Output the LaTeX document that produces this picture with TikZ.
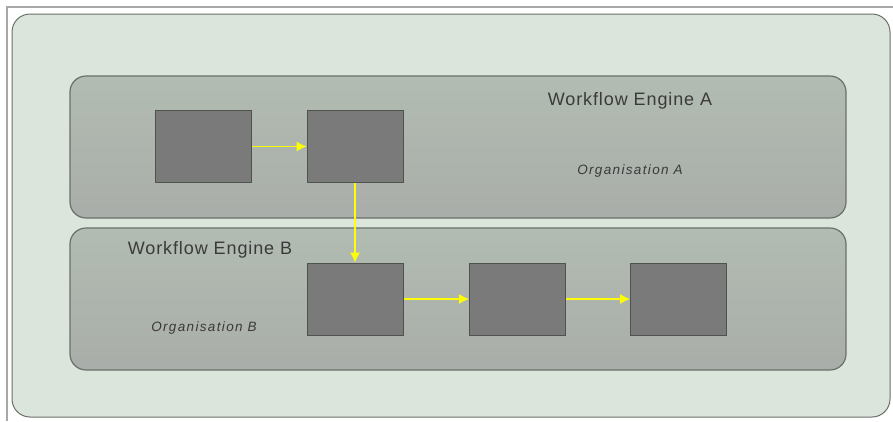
\documentclass[tikz,border=0pt]{standalone}
\usepackage{fontspec}
\setmainfont{Liberation Sans}
\newfontfamily\titlefont[LetterSpace=5]{Liberation Sans}
\newfontfamily\orgfont[LetterSpace=10]{Liberation Sans}
\usetikzlibrary{arrows.meta}
\definecolor{outerfill}{HTML}{DCE5DC}
\definecolor{engtop}{HTML}{B2BCB2}
\definecolor{engbot}{HTML}{A9ADA9}
\definecolor{engline}{HTML}{6A706A}
\definecolor{boxfill}{HTML}{7A7A7A}
\definecolor{boxline}{HTML}{4E534E}
\definecolor{txt}{HTML}{3A3A3A}
\definecolor{flowyellow}{HTML}{FFFF00}
\tikzset{
  frame/.style={draw=engline!60, line width=1.5pt},
  outerbox/.style={draw=engline, line width=1pt, fill=outerfill, rounded corners=18pt},
  engine/.style={draw=engline, line width=1.2pt, top color=engtop, bottom color=engbot, rounded corners=16pt},
  task/.style={draw=boxline, line width=1pt, fill=boxfill, minimum width=96pt, minimum height=72pt, inner sep=0pt},
  flow/.style={draw=flowyellow, line width=1.2pt, -{Latex[length=10pt,width=10pt]}},
  title/.style={text=txt, font=\titlefont\fontsize{18}{18}\selectfont, inner sep=0pt},
  org/.style={text=txt, font=\orgfont\fontsize{13.5}{13.5}\selectfont\itshape, inner sep=0pt}
}
\begin{document}
\begin{tikzpicture}[x=1pt,y=-1pt]
\useasboundingbox[fill=white] (0,0) rectangle (893,421);
\draw[frame] (7,421) -- (7,7) -- (893,7);
\draw[outerbox] (12,14) rectangle (890,417);
\draw[engine] (70,76) rectangle (846,218);
\draw[engine] (70,228) rectangle (846,370);
\node[title] (ta) at (630,101) {Workflow Engine A};
\node[org] (oa) at (630,171) {Organisation A};
\node[title] (tb) at (210,250) {Workflow Engine B};
\node[org] (ob) at (204,328) {Organisation B};
\node[task] (a1) at (203.5,146.5) {};
\node[task] (a2) at (355,146.5) {};
\node[task] (b1) at (355,299) {};
\node[task] (b2) at (517.5,299) {};
\node[task] (b3) at (678.5,299) {};
\draw[flow] (a1) -- (a2);
\draw[flow] (a2) -- (b1);
\draw[flow] (b1) -- (b2);
\draw[flow] (b2) -- (b3);
\end{tikzpicture}
\end{document}
